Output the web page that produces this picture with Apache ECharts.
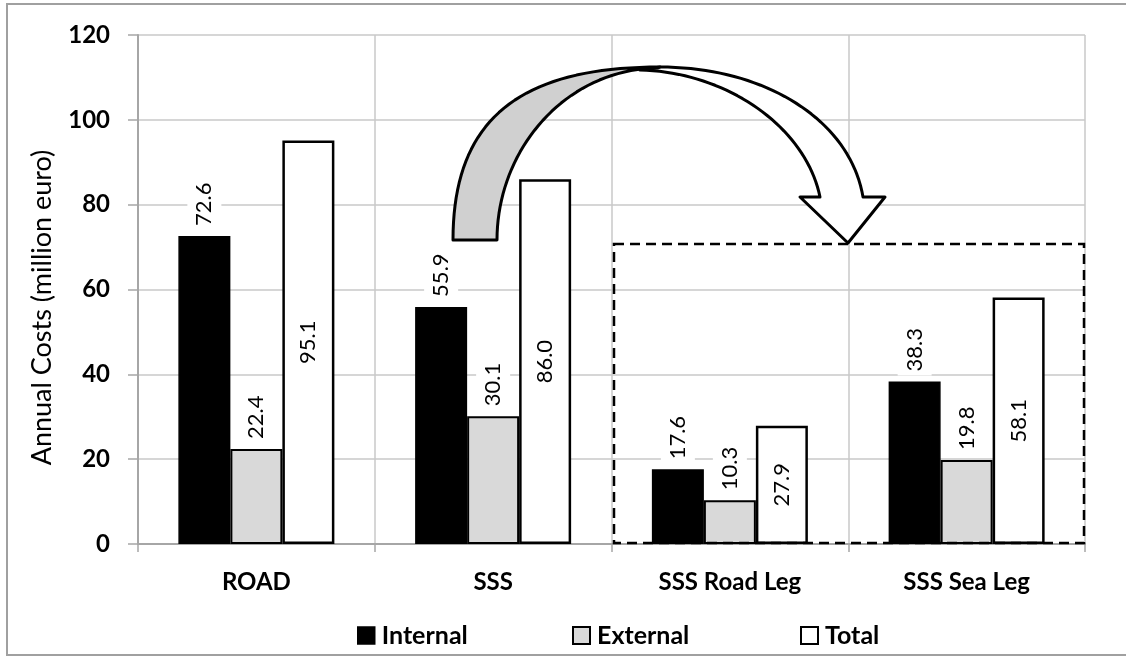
<!DOCTYPE html>
<html>
<head>
<meta charset="utf-8">
<title>Annual Costs</title>
<script src="https://cdn.jsdelivr.net/npm/echarts@6/dist/echarts.min.js"></script>
<style>
  html, body { margin: 0; padding: 0; background: #fff; }
  #chart { width: 1126px; height: 656px; }
</style>
</head>
<body>
<div id="chart"></div>
<script>
// Annual costs per scenario (million euro)
const categories = ['ROAD', 'SSS', 'SSS Road Leg', 'SSS Sea Leg'];
const internalCosts = [72.6, 55.9, 17.6, 38.3];
const externalCosts = [22.4, 30.1, 10.3, 19.8];
const totalCosts = [95.1, 86.0, 27.9, 58.1];
const yTicks = [0, 20, 40, 60, 80, 100, 120];

const FONT = 'Lato, "Open Sans", sans-serif';

// Sample a cubic Bezier into points (for the curved arrow outline)
function bezier(p0, p1, p2, p3, n) {
  const pts = [];
  for (let i = 0; i <= n; i++) {
    const t = i / n, u = 1 - t;
    pts.push([
      u*u*u*p0[0] + 3*u*u*t*p1[0] + 3*u*t*t*p2[0] + t*t*t*p3[0],
      u*u*u*p0[1] + 3*u*u*t*p1[1] + 3*u*t*t*p2[1] + t*t*t*p3[1]
    ]);
  }
  return pts;
}

// Curved arrow: grey tail rising from SSS, white body descending into the legs box
const outerLeft = bezier([453, 240], [453, 119], [520, 67], [660, 67], 40);
const innerLeft = bezier([497, 240], [497, 150], [565, 69], [658, 68], 40);
const outerRight = bezier([660, 67], [765, 67], [850, 120], [863, 197], 40);
const innerRight = bezier([640, 70], [728, 72], [806, 128], [820, 197], 40);

const arrowBody = outerRight
  .concat([[885, 197], [848, 243], [800, 197]])
  .concat(innerRight.slice().reverse());
const arrowTail = outerLeft.concat(innerLeft.slice().reverse());

const valueLabelOutside = {
  show: true,
  position: 'top',
  rotate: 90,
  align: 'left',
  verticalAlign: 'middle',
  distance: 6,
  fontFamily: FONT,
  fontSize: 22,
  color: '#000',
  backgroundColor: '#fff',
  padding: [6, 4, 6, 4],
  formatter: p => p.value.toFixed(1)
};

// one legend block per series so each key sits at its own spot
const legendStyle = { fontFamily: FONT, fontSize: 25, fontWeight: 'bold', color: '#000', padding: [0, 0, 0, 2] };
function legendAt(left, name, itemStyle) {
  return {
    left: left,
    top: 618,
    icon: 'rect',
    itemWidth: 17,
    itemHeight: 17,
    textStyle: legendStyle,
    selectedMode: false,
    data: [{ name: name, itemStyle: itemStyle }]
  };
}

const chart = echarts.init(document.getElementById('chart'), null, { renderer: 'canvas' });

chart.setOption({
  animation: false,
  backgroundColor: '#fff',
  grid: { left: 138, top: 35, width: 947, height: 509, containLabel: false },
  legend: [
    legendAt(352, 'Internal', { color: '#000', borderColor: '#000', borderWidth: 1.5 }),
    legendAt(567, 'External', { color: '#d9d9d9', borderColor: '#000', borderWidth: 2 }),
    legendAt(795, 'Total', { color: '#fff', borderColor: '#000', borderWidth: 2 })
  ],
  xAxis: {
    type: 'category',
    data: categories,
    axisLine: { show: true, lineStyle: { color: '#a6a6a6', width: 2 } },
    axisTick: { show: true, length: 8, lineStyle: { color: '#a6a6a6', width: 1.5 } },
    splitLine: { show: true, interval: 0, lineStyle: { color: '#c8c8c8', width: 1.5 } },
    axisLabel: { margin: 26, fontFamily: FONT, fontSize: 24, fontWeight: 'bold', color: '#000' }
  },
  yAxis: {
    type: 'value',
    min: yTicks[0],
    max: yTicks[yTicks.length - 1],
    interval: yTicks[1] - yTicks[0],
    name: 'Annual Costs (million euro)',
    nameLocation: 'middle',
    nameGap: 82,
    nameTextStyle: { fontFamily: FONT, fontSize: 27, color: '#000', padding: [0, 36, 0, 0] },
    axisLine: { show: true, lineStyle: { color: '#a6a6a6', width: 2 } },
    axisTick: { show: true, length: 10, lineStyle: { color: '#a6a6a6', width: 1.5 } },
    splitLine: { show: true, lineStyle: { color: '#c8c8c8', width: 1.5 } },
    axisLabel: { margin: 28, fontFamily: FONT, fontSize: 24, fontWeight: 'bold', color: '#000' }
  },
  series: [
    {
      name: 'Internal',
      type: 'bar',
      data: internalCosts,
      barWidth: 52,
      barGap: '0%',
      itemStyle: { color: '#000', borderColor: '#000', borderWidth: 1.5 },
      label: valueLabelOutside
    },
    {
      name: 'External',
      type: 'bar',
      data: externalCosts,
      barWidth: 52,
      barGap: '0%',
      itemStyle: { color: '#d9d9d9', borderColor: '#000', borderWidth: 2 },
      label: valueLabelOutside
    },
    {
      name: 'Total',
      type: 'bar',
      data: totalCosts,
      barWidth: 52,
      barGap: '0%',
      itemStyle: { color: '#fff', borderColor: '#000', borderWidth: 2.5 },
      label: {
        show: true,
        position: 'inside',
        rotate: 90,
        fontFamily: FONT,
        fontSize: 22,
        color: '#000',
        formatter: p => p.value.toFixed(1)
      }
    }
  ],
  graphic: [
    // frame around the figure
    {
      type: 'rect',
      silent: true,
      z: 0,
      shape: { x: 7, y: 4, width: 1130, height: 651 },
      style: { fill: null, stroke: '#a0a0a0', lineWidth: 2 }
    },
    // dashed box grouping the two SSS legs
    {
      type: 'rect',
      silent: true,
      z: 100,
      shape: { x: 614, y: 244, width: 470, height: 299 },
      style: { fill: null, stroke: '#000', lineWidth: 2.5, lineDash: [10, 6] }
    },
    {
      type: 'polygon',
      silent: true,
      z: 100,
      shape: { points: arrowBody },
      style: { fill: '#fff', stroke: '#000', lineWidth: 3, lineJoin: 'round' }
    },
    {
      type: 'polygon',
      silent: true,
      z: 101,
      shape: { points: arrowTail },
      style: { fill: '#d0d0d0', stroke: '#000', lineWidth: 3, lineJoin: 'round' }
    }
  ]
});
</script>
</body>
</html>
